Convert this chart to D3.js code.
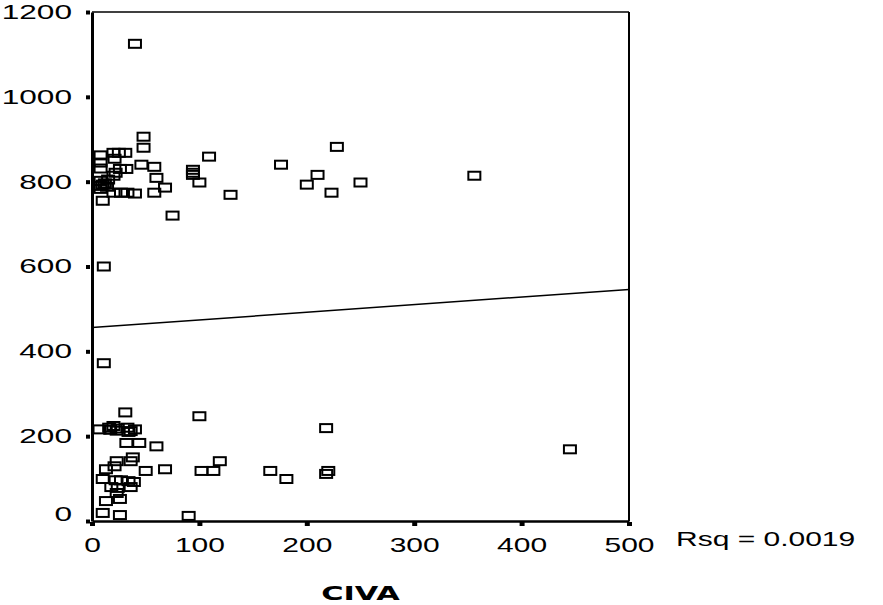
<!DOCTYPE html>
<html>
<head>
<meta charset="utf-8">
<script src="https://cdn.jsdelivr.net/npm/d3@7"></script>
<style>
  body { margin: 0; background: #fff; }
  text { font-family: "Liberation Sans", Arial, sans-serif; fill: #000; }
</style>
</head>
<body>
<svg id="chart"></svg>
<script>
// data (CIVA vs value)
var civa = [40, 48, 48, 109, 46, 58, 176, 228, 210, 8, 8, 8, 8, 8, 8,
            20, 25, 31, 21, 26, 32, 22, 20, 12, 15, 10, 14, 60, 68, 58,
            20, 27, 33, 40, 10, 75, 94, 94, 94, 100, 129, 200, 223, 250, 356,
            11, 11,
            31, 100, 218, 7, 16, 20, 24, 17, 23, 33, 36, 40, 34, 32, 44, 60,
            38, 36, 23, 21, 13, 50, 68, 119, 102, 113, 166, 220, 218, 181, 445,
            10, 22, 27, 34, 39, 18, 24, 36, 23, 13, 26, 10, 26, 90];
var yVals = [1125, 906, 880, 859, 840, 835, 840, 882, 816, 862, 845, 831, 802, 790, 783,
             868, 868, 868, 854, 830, 830, 821, 814, 796, 805, 793, 788, 809, 786, 774,
             774, 774, 774, 772, 755, 720, 828, 821, 816, 798, 769, 793, 774, 798, 814,
             600, 372,
             256, 247, 219, 216, 220, 224, 218, 215, 213, 220, 212, 216, 210, 184, 184, 176,
             150, 141, 141, 129, 122, 118, 122, 141, 118, 118, 118, 118, 111, 99, 169,
             99, 96, 96, 94, 92, 80, 78, 80, 66, 47, 52, 19, 14, 12];

var xTicks = [0, 100, 200, 300, 400, 500];
var yTicks = [0, 200, 400, 600, 800, 1000, 1200];
// fitted line end points (intercept / slope)
var fitLine = [[0, 456], [500, 546]];
var rsqLabel = "Rsq = 0.0019";
var xTitle = "CIVA";

var W = 883, H = 605;
var plotL = 92, plotR = 629, plotT = 12, plotB = 521;
var stretch = 1.5;   // the source text is wide / stretched
var fs = 20;

var svg = d3.select("#chart").attr("width", W).attr("height", H);

var x = d3.scaleLinear().domain([0, 500]).range([plotL, plotR]);
var y = d3.scaleLinear().domain([0, 1200]).range([plotB, plotT]);

// frame
svg.append("line").attr("x1", plotL).attr("x2", plotR).attr("y1", plotT).attr("y2", plotT)
    .attr("stroke", "#000").attr("stroke-width", 1.5);
svg.append("line").attr("x1", plotR).attr("x2", plotR).attr("y1", plotT).attr("y2", plotB)
    .attr("stroke", "#000").attr("stroke-width", 2);

// x axis
var xAxis = svg.append("g")
    .attr("transform", "translate(0," + plotB + ")")
    .call(d3.axisBottom(x).tickValues(xTicks).tickFormat(d3.format("d"))
      .tickSize(5).tickPadding(12).tickSizeOuter(0));
xAxis.select(".domain").attr("stroke-width", 2.5);
xAxis.selectAll(".tick line").attr("stroke-width", 5).attr("y1", 1);
xAxis.selectAll(".tick text")
    .attr("font-size", fs)
    .attr("dy", "0.71em")
    .each(function() {
      var t = d3.select(this);
      var yy = +t.attr("y");
      t.attr("y", null).attr("transform", "translate(0," + yy + ") scale(" + stretch + ",1)");
    });

// y axis
var yAxis = svg.append("g")
    .attr("transform", "translate(" + plotL + ",0)")
    .call(d3.axisLeft(y).tickValues(yTicks).tickFormat(d3.format("d"))
      .tickSize(6).tickPadding(14).tickSizeOuter(0));
yAxis.select(".domain").attr("stroke-width", 3);
yAxis.selectAll(".tick line").attr("stroke-width", 4).attr("x2", -2).attr("x1", -6);
yAxis.selectAll(".tick text")
    .attr("font-size", fs)
    .each(function(d) {
      var t = d3.select(this);
      var xx = +t.attr("x");
      var off = d === 0 ? -7 : 0;
      t.attr("x", null).attr("transform", "translate(" + xx + "," + off + ") scale(" + (stretch + 0.08) + ",1)");
    });
svg.selectAll(".domain").attr("stroke", "#000");

// regression line
svg.append("line")
    .attr("x1", x(fitLine[0][0])).attr("y1", y(fitLine[0][1]))
    .attr("x2", x(fitLine[1][0])).attr("y2", y(fitLine[1][1]))
    .attr("stroke", "#000").attr("stroke-width", 1.5);

// points: small open boxes
var pts = d3.range(civa.length).map(function(i) { return {cx: civa[i], v: yVals[i]}; });
svg.append("g").selectAll("rect")
    .data(pts).enter()
    .append("rect")
    .attr("x", function(d) { return x(d.cx) - 6; })
    .attr("y", function(d) { return y(d.v) - 4; })
    .attr("width", 12)
    .attr("height", 8)
    .attr("fill", "none")
    .attr("stroke", "#000")
    .attr("stroke-width", 2);

// Rsq note
svg.append("text")
    .attr("transform", "translate(676,546) scale(" + stretch + ",1)")
    .attr("font-size", fs)
    .text(rsqLabel);

// x title
svg.append("text")
    .attr("transform", "translate(" + ((plotL + plotR) / 2) + ",600) scale(1.6,1)")
    .attr("text-anchor", "middle")
    .attr("font-size", 19)
    .attr("font-weight", "bold")
    .style("font-family", "'DejaVu Sans', sans-serif")
    .text(xTitle);
</script>
</body>
</html>
